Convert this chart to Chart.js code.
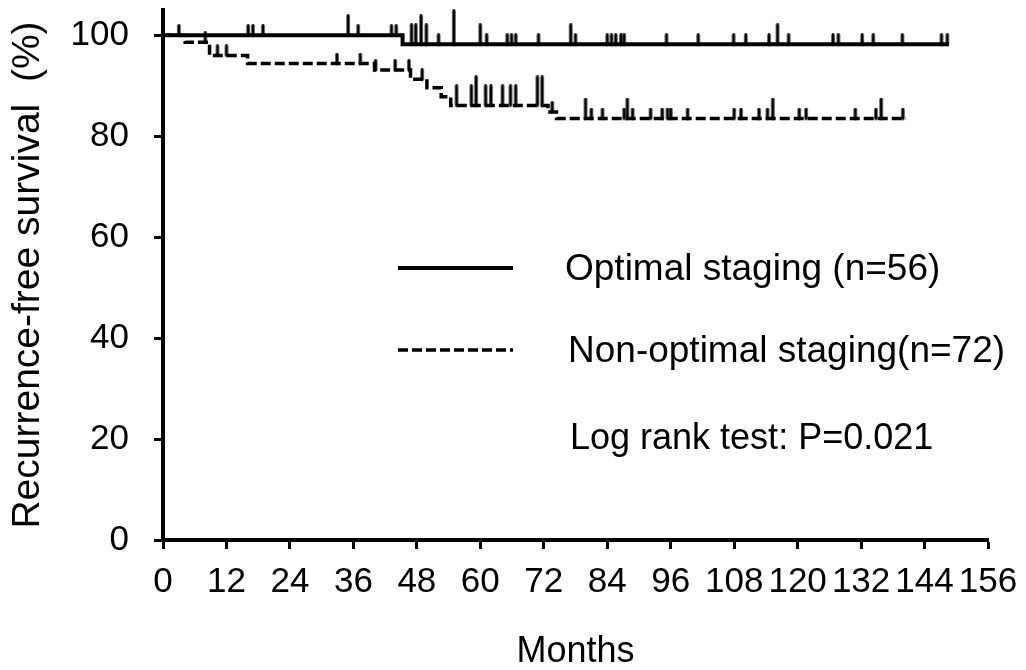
<!DOCTYPE html>
<html>
<head>
<meta charset="utf-8">
<script src="https://cdn.jsdelivr.net/npm/chart.js@4.4.1/dist/chart.umd.min.js"></script>
<style>
  html, body { margin: 0; padding: 0; background: #ffffff; }
  #wrap { width: 1026px; height: 670px; position: relative; }
</style>
</head>
<body>
<div id="wrap"><canvas id="chart" width="1026" height="670"></canvas></div>
<script>
// ---------- data ----------
const monthTicks = [0, 12, 24, 36, 48, 60, 72, 84, 96, 108, 120, 132, 144, 156];
const survivalTicks = [0, 20, 40, 60, 80, 100];

// Kaplan-Meier steps: month at which a level starts, and the level (%)
const optimalStepMonths   = [0, 45.3, 148.6];
const optimalStepSurvival = [100, 98.2, 98.2];

const nonOptStepMonths   = [0, 4.2, 8.8, 16.0, 40.0, 46.8, 49.9, 52.6, 54.4, 72.8, 74.4, 140.5];
const nonOptStepSurvival = [100, 98.6, 96.0, 94.4, 93.1, 91.3, 89.6, 87.8, 86.1, 84.8, 83.5, 83.5];

// censored observations (month) and number censored at that month
const optimalCensorMonths = [3.0, 16.1, 17.0, 18.9, 35.0, 36.9, 43.2, 44.1, 47.0, 47.8, 48.8, 49.8, 52.1, 55.0,
  60.0, 61.2, 65.1, 65.9, 66.7, 71.0, 77.1, 78.0, 84.0, 84.8, 85.6, 86.6, 87.2, 95.2, 101.2, 107.9, 110.2,
  114.6, 116.2, 118.3, 126.7, 127.7, 132.2, 134.3, 139.8, 147.2, 148.3];
const optimalCensorCounts = [1, 1, 1, 1, 2, 1, 1, 1, 2, 2, 3, 2, 1, 4,
  2, 1, 1, 1, 1, 1, 2, 1, 1, 1, 1, 1, 1, 1, 1, 1, 1,
  1, 2, 1, 1, 1, 1, 1, 1, 1, 1];

const nonOptCensorMonths = [8.0, 10.3, 12.0, 32.9, 37.3, 40.2, 43.9, 46.5, 49.0, 55.5, 58.3, 59.2, 61.0, 62.0,
  64.2, 65.7, 66.7, 70.8, 71.7, 73.6, 79.9, 81.0, 83.1, 87.2, 87.8, 88.8, 92.2, 94.4, 95.4, 96.0, 99.2,
  108.0, 109.3, 112.7, 114.3, 115.3, 120.3, 121.6, 130.9, 134.8, 135.8, 139.9];
const nonOptCensorCounts = [1, 1, 1, 1, 1, 1, 1, 1, 1, 2, 2, 3, 2, 2,
  2, 2, 2, 3, 3, 1, 2, 1, 1, 1, 2, 1, 1, 1, 1, 1, 1,
  1, 1, 1, 1, 2, 1, 1, 1, 1, 2, 1];

const seriesLabels = ['Optimal staging (n=56)', 'Non-optimal staging(n=72)'];
const testText = 'Log rank test: P=0.021';
const xTitle = 'Months';
const yTitle = 'Recurrence-free survival  (%)';

// ---------- helpers ----------
const FONT = "'Liberation Sans', Arial, Helvetica, sans-serif";
Chart.defaults.font.family = FONT;
Chart.defaults.color = '#000';

function stepPoints(months, surv) {
  return months.map((m, i) => ({ x: m, y: surv[i] }));
}
function levelAt(months, surv, t) {
  let s = surv[0];
  for (let i = 0; i < months.length; i++) if (months[i] <= t) s = surv[i];
  return s;
}
function censorPoints(cm, months, surv) {
  return cm.map(t => ({ x: t, y: levelAt(months, surv, t) }));
}
const tickLen = [0, 11, 21, 30, 35];
function makeTick(len, w) {
  const c = document.createElement('canvas');
  c.width = 8; c.height = 2 * len;
  const g = c.getContext('2d');
  g.strokeStyle = '#000'; g.lineWidth = w; g.lineCap = 'round';
  g.beginPath(); g.moveTo(4, w / 2); g.lineTo(4, len); g.stroke();
  return c;
}
const solidTicks = tickLen.map(l => l ? makeTick(l, 3.2) : null);
const dashTicks = tickLen.map(l => l ? makeTick(l, 3.2) : null);

const SOLID_W = 4, DASH_W = 3.5, DASH = [10, 4];

const legendPlugin = {
  id: 'kmLegend',
  afterDraw(chart) {
    const ctx = chart.ctx;
    ctx.save();
    ctx.strokeStyle = '#000';
    ctx.lineCap = 'butt';
    // solid sample
    ctx.lineWidth = SOLID_W;
    ctx.setLineDash([]);
    ctx.beginPath(); ctx.moveTo(398, 268); ctx.lineTo(513, 268); ctx.stroke();
    // dashed sample
    ctx.lineWidth = DASH_W;
    ctx.setLineDash(DASH);
    ctx.beginPath(); ctx.moveTo(398, 350); ctx.lineTo(513, 350); ctx.stroke();
    ctx.setLineDash([]);
    ctx.fillStyle = '#000';
    ctx.textAlign = 'left';
    ctx.textBaseline = 'middle';
    ctx.font = '37px ' + FONT;
    ctx.fillText(seriesLabels[0], 565, 270);
    ctx.fillText(seriesLabels[1], 568, 352);
    ctx.font = '36px ' + FONT;
    ctx.fillText(testText, 570, 439);
    ctx.restore();
  }
};

new Chart(document.getElementById('chart'), {
  type: 'line',
  data: {
    datasets: [
      {
        label: seriesLabels[0],
        data: stepPoints(optimalStepMonths, optimalStepSurvival),
        stepped: true,
        borderColor: '#000', borderWidth: SOLID_W,
        pointRadius: 0, fill: false, clip: false
      },
      {
        label: 'optimal censored',
        data: censorPoints(optimalCensorMonths, optimalStepMonths, optimalStepSurvival),
        showLine: false, clip: false,
        pointRadius: 3,
        pointStyle: (c) => solidTicks[optimalCensorCounts[c.dataIndex]]
      },
      {
        label: seriesLabels[1],
        data: stepPoints(nonOptStepMonths, nonOptStepSurvival),
        stepped: true,
        borderColor: '#000', borderWidth: DASH_W, borderDash: DASH,
        pointRadius: 0, fill: false, clip: false
      },
      {
        label: 'non-optimal censored',
        data: censorPoints(nonOptCensorMonths, nonOptStepMonths, nonOptStepSurvival),
        showLine: false, clip: false,
        pointRadius: 3,
        pointStyle: (c) => dashTicks[nonOptCensorCounts[c.dataIndex]]
      }
    ]
  },
  options: {
    responsive: false,
    animation: false,
    events: [],
    layout: { padding: { top: 10, right: 38, left: 0, bottom: 0 } },
    plugins: { legend: { display: false }, tooltip: { enabled: false } },
    scales: {
      x: {
        type: 'linear', min: 0, max: 156,
        afterBuildTicks: s => { s.ticks = monthTicks.map(v => ({ value: v })); },
        afterFit: s => { s.height = 130; s.paddingLeft = 0; s.paddingRight = 0; },
        ticks: { font: { size: 35 }, color: '#000', padding: 12, maxRotation: 0, autoSkip: false },
        grid: { drawOnChartArea: false, drawTicks: true, tickLength: 9, tickWidth: 3, tickColor: '#000' },
        border: { display: true, color: '#000', width: 4 },
        title: { display: true, text: xTitle, font: { size: 36, lineHeight: 1 }, color: '#000', padding: { top: 0, bottom: 0 } }
      },
      y: {
        type: 'linear', min: 0, max: 105,
        afterBuildTicks: s => { s.ticks = survivalTicks.map(v => ({ value: v })); },
        afterFit: s => { s.width = 163; s.paddingTop = 0; s.paddingBottom = 0; },
        ticks: { font: { size: 35 }, color: '#000', padding: 25 },
        grid: { drawOnChartArea: false, drawTicks: true, tickLength: 9, tickWidth: 3, tickColor: '#000' },
        border: { display: true, color: '#000', width: 4 },
        title: { display: true, text: yTitle, font: { size: 39 }, color: '#000', padding: { top: 5, bottom: 0 } }
      }
    }
  },
  plugins: [legendPlugin]
});
</script>
</body>
</html>
